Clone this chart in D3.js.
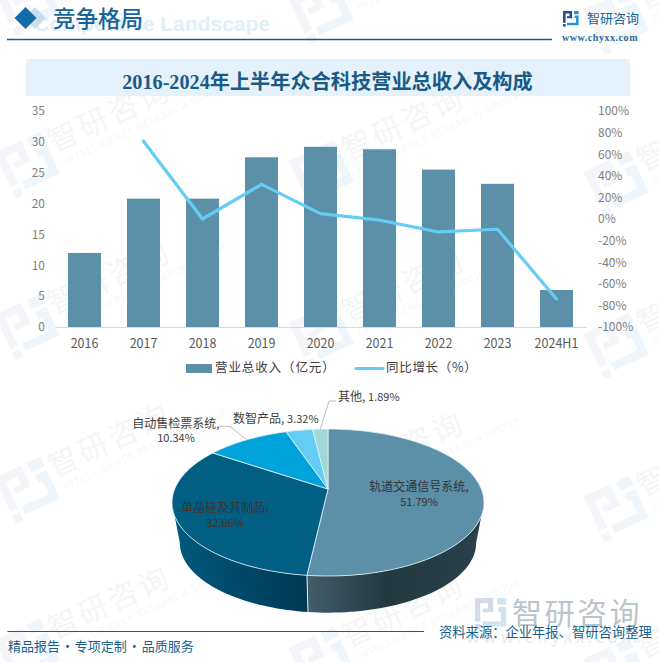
<!DOCTYPE html>
<html lang="zh-CN">
<head>
<meta charset="utf-8">
<script src="https://cdn.jsdelivr.net/npm/d3@7/dist/d3.min.js"></script>
<style>
html, body { margin: 0; padding: 0; background: #fff; }
svg { display: block; }
text { font-family: "Noto Sans CJK SC", "Noto Sans", sans-serif; }
</style>
</head>
<body>
<div id="chart"></div>
<script>
var categories = ["2016", "2017", "2018", "2019", "2020", "2021", "2022", "2023", "2024H1"];
var revenue = [12, 20.8, 20.8, 27.5, 29.2, 28.8, 25.5, 23.2, 6];
var growth = [null, 72, 0, 32, 5, -1, -12, -9.5, -74];
var revenueTicks = [0, 5, 10, 15, 20, 25, 30, 35];
var growthTicks = [-100, -80, -60, -40, -20, 0, 20, 40, 60, 80, 100];

var shareNames = ["轨道交通信号系统", "单晶硅及其制品", "自动售检票系统", "数智产品", "其他"];
var shareValues = [51.79, 32.66, 10.34, 3.32, 1.89];
var shareColors = ["#5c90a9", "#005f83", "#00a2db", "#65ccf5", "#9fd8d5"];

var width = 659, height = 662;
var barColor = "#5c90a9", lineColor = "#65ccf5";
var headBlue = "#1a6496";

var svg = d3.select("#chart").append("svg")
    .attr("width", width)
    .attr("height", height);

var defs = svg.append("defs");

// Logo, drawn in a 24x24 box
function drawLogo(g, dark, light) {
    g.append("path").attr("fill", dark)
        .attr("d", "M0 0H14V11H6V8H10V4H4V18H0ZM0 20H4V24H0Z");
    g.append("path").attr("fill", light)
        .attr("d", "M17 0H24V5H17ZM18 7H24V22H6V18H20V11H18Z");
}

// Watermark grid behind everything
var markCols = [28, 322, 617];
var markShift = [0, 8, 19];
var markRows = [3, 165, 327, 490, 652];
var marks = svg.append("g").attr("class", "watermarks");
markCols.forEach(function (cx, i) {
    markRows.forEach(function (cy) {
        var yy = cy + markShift[i];
        var logo = marks.append("g")
            .attr("transform", "translate(" + cx + "," + yy + ") rotate(-25) scale(2.1) translate(-12,-12)");
        drawLogo(logo, "#f3f5f9", "#eef6fb");
        var lab = marks.append("g")
            .attr("transform", "translate(" + (cx + 26) + "," + (yy - 12) + ") rotate(-25)");
        lab.append("text")
            .attr("fill", "#f5f5f6")
            .attr("font-size", 30)
            .attr("letter-spacing", 3)
            .text("智研咨询");
        lab.append("text")
            .attr("x", 5)
            .attr("y", 16)
            .attr("fill", "#f6f7f8")
            .attr("font-size", 10)
            .attr("letter-spacing", 0.8)
            .text("INTELLIGENCE RESEARCH GROUP");
    });
});

// Page header
svg.append("text")
    .attr("x", 270).attr("y", 31)
    .attr("text-anchor", "end")
    .attr("fill", "#e1effa")
    .attr("font-size", 21)
    .attr("font-weight", "bold")
    .style("font-family", "'Liberation Sans'")
    .text("Competitive Landscape");
svg.append("path").attr("fill", "#c9deec").attr("d", "M35 7L46 18L35 29L24 18Z");
svg.append("path").attr("fill", "#146ca8").attr("d", "M25.5 7L36.5 18L25.5 29L14.5 18Z");
svg.append("text")
    .attr("x", 53).attr("y", 26.5)
    .attr("fill", headBlue)
    .attr("font-size", 22.5)
    .attr("font-weight", 500)
    .text("竞争格局");
svg.append("line")
    .attr("x1", 7).attr("x2", 552).attr("y1", 39.5).attr("y2", 39.5)
    .attr("stroke", "#1a5f8a").attr("stroke-width", 1.4);

var topLogo = svg.append("g").attr("transform", "translate(563,11) scale(0.65)");
drawLogo(topLogo, "#2c4a8e", "#2a92d8");
svg.append("text")
    .attr("x", 587).attr("y", 23)
    .attr("fill", headBlue)
    .attr("font-size", 13)
    .text("智研咨询");
svg.append("text")
    .attr("x", 562).attr("y", 41)
    .attr("fill", "#2a6a96")
    .attr("font-size", 10)
    .attr("font-weight", "bold")
    .attr("letter-spacing", 0.55)
    .style("font-family", "'Liberation Serif'")
    .text("www.chyxx.com");

// Title band
svg.append("rect")
    .attr("x", 26).attr("y", 59)
    .attr("width", 604).attr("height", 37)
    .attr("fill", "#e5f2fb");
svg.append("text")
    .attr("x", 327.5).attr("y", 88.5)
    .attr("text-anchor", "middle")
    .attr("fill", "#1a5a86")
    .attr("font-size", 20.2)
    .attr("font-weight", "bold")
    .style("font-family", "'Liberation Serif', 'Noto Sans CJK SC'")
    .text("2016-2024年上半年众合科技营业总收入及构成");

// Bars and line
var x = d3.scaleBand()
    .domain(categories)
    .range([55, 586])
    .paddingInner(0.44)
    .paddingOuter(0.22);
var yLeft = d3.scaleLinear().domain([0, 35]).range([327, 111]);
var yRight = d3.scaleLinear().domain([-100, 100]).range([327, 111]);

var plot = svg.append("g").attr("class", "plot");

plot.selectAll(".bar")
    .data(revenue)
    .enter()
    .append("rect")
    .attr("class", "bar")
    .attr("x", function (d, i) { return x(categories[i]); })
    .attr("y", function (d) { return yLeft(d); })
    .attr("width", x.bandwidth())
    .attr("height", function (d) { return yLeft(0) - yLeft(d); })
    .attr("fill", barColor);

var lineGen = d3.line()
    .defined(function (d) { return d != null; })
    .x(function (d, i) { return x(categories[i]) + x.bandwidth() / 2; })
    .y(function (d) { return yRight(d); });

plot.append("path")
    .attr("d", lineGen(growth))
    .attr("fill", "none")
    .attr("stroke", lineColor)
    .attr("stroke-width", 3.2)
    .attr("stroke-linecap", "round")
    .attr("stroke-linejoin", "round");

var axisLeft = d3.axisLeft(yLeft).tickValues(revenueTicks).tickSize(0).tickPadding(10);
var gLeft = svg.append("g").attr("transform", "translate(55,0)").call(axisLeft);
gLeft.select(".domain").remove();

var axisRight = d3.axisRight(yRight).tickValues(growthTicks).tickSize(0).tickPadding(12)
    .tickFormat(function (d) { return d + "%"; });
var gRight = svg.append("g").attr("transform", "translate(586,0)").call(axisRight);
gRight.select(".domain").remove();

[gLeft, gRight].forEach(function (g) {
    g.selectAll("text")
        .style("font-family", "'Noto Sans CJK SC'")
        .attr("font-size", 12)
        .attr("fill", "#7f7f7f");
});

var axisBottom = d3.axisBottom(x).tickSize(0).tickPadding(12);
var gBottom = svg.append("g").attr("transform", "translate(0,327)").call(axisBottom);
gBottom.select(".domain").attr("stroke", "#d9d9d9").attr("stroke-width", 1);
gBottom.selectAll("text")
    .style("font-family", "'Noto Sans CJK SC'")
    .attr("font-size", 12.5)
    .attr("fill", "#595959");

// Legend
svg.append("rect")
    .attr("x", 186).attr("y", 364)
    .attr("width", 26).attr("height", 9)
    .attr("fill", barColor);
svg.append("text")
    .attr("x", 215).attr("y", 372)
    .attr("fill", "#404040")
    .attr("font-size", 12.5)
    .attr("letter-spacing", 0.9)
    .style("font-feature-settings", "'palt' 0")
    .text("营业总收入（亿元）");
svg.append("line")
    .attr("x1", 356).attr("x2", 383).attr("y1", 368.5).attr("y2", 368.5)
    .attr("stroke", lineColor)
    .attr("stroke-width", 3.2)
    .attr("stroke-linecap", "round");
svg.append("text")
    .attr("x", 386).attr("y", 372)
    .attr("fill", "#404040")
    .attr("font-size", 12.5)
    .attr("letter-spacing", 0.7)
    .text("同比增长（%）");

// 3D pie. Circle angle is mapped with a small perspective so slices meet above the ellipse centre
var pieCx = 328, pieCy = 489, pieA = 153.3, pieB = 71, pieP = -0.184;
var wallDrop = 41, wallScale = 0.95;

function rimPoint(angle, low) {
    var s = Math.sin(angle), c = -Math.cos(angle);
    var k = 1 / (1 + pieP * c);
    var f = low ? wallScale : 1;
    return [pieCx + f * pieA * s * k, pieCy + (low ? wallDrop : 0) + f * pieB * c * k];
}

function rimPoints(a0, a1, low) {
    var n = Math.max(2, Math.ceil(Math.abs(a1 - a0) / 0.03));
    return d3.range(n + 1).map(function (i) {
        return rimPoint(a0 + (a1 - a0) * i / n, low);
    });
}

var pieLine = d3.line();
var arcs = d3.pie().sort(null)(shareValues);

var wallFrom = Math.PI - Math.acos(-pieP);
var wallTo = 2 * Math.PI - wallFrom;

function addGradient(id, x1, x2, stops) {
    var g = defs.append("linearGradient")
        .attr("id", id)
        .attr("gradientUnits", "userSpaceOnUse")
        .attr("x1", x1).attr("x2", x2).attr("y1", 0).attr("y2", 0);
    stops.forEach(function (st) {
        g.append("stop").attr("offset", st[0]).attr("stop-color", st[1]);
    });
}
addGradient("wall0", 307, 484, [[0, "#435d6a"], [0.45, "#24393f"], [1, "#2a414c"]]);
addGradient("wall1", 172, 307, [[0, "#015a7d"], [0.5, "#00486a"], [1, "#003a54"]]);

var pie = svg.append("g").attr("class", "pie");

arcs.forEach(function (a, i) {
    var start = Math.max(a.startAngle, wallFrom), end = Math.min(a.endAngle, wallTo);
    if (end <= start) return;
    var pts = rimPoints(start, end, false).concat(rimPoints(end, start, true));
    pie.append("path")
        .attr("d", pieLine(pts) + "Z")
        .attr("fill", "url(#wall" + i + ")");
});

var seam = rimPoint(arcs[0].endAngle, false), seamLow = rimPoint(arcs[0].endAngle, true);
pie.append("line")
    .attr("x1", seam[0]).attr("y1", seam[1])
    .attr("x2", seamLow[0]).attr("y2", seamLow[1])
    .attr("stroke", "#e6edf0")
    .attr("stroke-width", 1);

pie.selectAll(".slice")
    .data(arcs)
    .enter()
    .append("path")
    .attr("class", "slice")
    .attr("d", function (a) {
        return pieLine([[pieCx, pieCy]].concat(rimPoints(a.startAngle, a.endAngle, false))) + "Z";
    })
    .attr("fill", function (a, i) { return shareColors[i]; })
    .attr("stroke", "#e6f0f4")
    .attr("stroke-width", 0.8)
    .attr("stroke-linejoin", "round");

// Leader lines
var leaderLine = d3.line();
var leaderAuto = [rimPoint((arcs[2].startAngle + arcs[2].endAngle) / 2, false), [230, 426.5], [219, 426]];
var leaderOther = [rimPoint((arcs[4].startAngle + arcs[4].endAngle) / 2, false), [329, 401], [336, 401]];
[leaderAuto, leaderOther].forEach(function (pts) {
    svg.append("path")
        .attr("d", leaderLine(pts))
        .attr("fill", "none")
        .attr("stroke", "#bfbfbf")
        .attr("stroke-width", 1);
});

// Pie labels, name and share come from the data arrays
function pct(i) { return shareValues[i].toFixed(2) + "%"; }
var pieLabels = svg.append("g")
    .attr("font-size", 12)
    .attr("fill", "#404040");

function twoLine(i, cx, y1, y2, color) {
    pieLabels.append("text")
        .attr("x", cx).attr("y", y1)
        .attr("text-anchor", "middle")
        .attr("fill", color)
        .text(shareNames[i] + ",");
    pieLabels.append("text")
        .attr("x", cx).attr("y", y2)
        .attr("text-anchor", "middle")
        .attr("fill", color)
        .attr("font-size", 11)
        .text(pct(i));
}
function oneLine(i, lx, ly) {
    var t = pieLabels.append("text").attr("x", lx).attr("y", ly);
    t.append("tspan").text(shareNames[i] + ", ");
    t.append("tspan").attr("font-size", 11).text(pct(i));
}
twoLine(0, 419, 491, 506, "#333333");
twoLine(1, 225, 512, 527, "#4a2f28");
twoLine(2, 176, 428, 442, "#404040");
oneLine(3, 233, 423);
oneLine(4, 338, 401);

// Footer
var footLogo = svg.append("g").attr("transform", "translate(475,598) scale(1.3)");
drawLogo(footLogo, "#d3dce8", "#cfe3f1");
svg.append("text")
    .attr("x", 512).attr("y", 624)
    .attr("fill", "#bcc4cb")
    .attr("font-size", 30)
    .attr("letter-spacing", 2.5)
    .text("智研咨询");
svg.append("text")
    .attr("x", 466).attr("y", 643)
    .attr("fill", "#e8ecef")
    .attr("font-size", 17)
    .attr("letter-spacing", 3.6)
    .text("www.chyxx.com");
svg.append("line")
    .attr("x1", 7.5).attr("x2", 424).attr("y1", 631.5).attr("y2", 631.5)
    .attr("stroke", "#1a5f8a").attr("stroke-width", 1.2);
svg.append("text")
    .attr("x", 439).attr("y", 637)
    .attr("fill", "#1a5f8a")
    .attr("font-size", 13.3)
    .text("资料来源：企业年报、智研咨询整理");
svg.append("text")
    .attr("x", 8).attr("y", 651)
    .attr("fill", "#1a5f8a")
    .attr("font-size", 13)
    .attr("word-spacing", -2)
    .text("精品报告 · 专项定制 · 品质服务");
</script>
</body>
</html>
